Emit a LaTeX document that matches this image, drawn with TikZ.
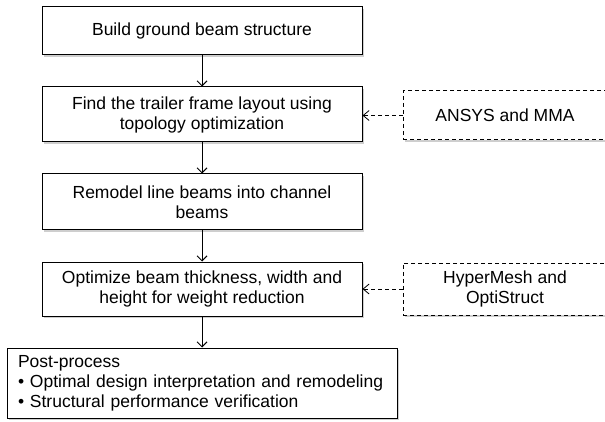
\documentclass[tikz,border=0pt]{standalone}
\usepackage{fontspec}
\setmainfont{Liberation Sans}
\usetikzlibrary{arrows.meta,shadows}
\begin{document}
\begin{tikzpicture}[x=1pt,y=-1pt,
  every node/.style={font=\fontsize{17.5}{20}\selectfont},
  shade/.style={drop shadow={shadow xshift=1.8pt,shadow yshift=-1.8pt,fill=gray!70,opacity=0.55}},
  stepbox/.style={draw,line width=1pt,fill=white,minimum width=320pt,align=center,inner sep=0pt,shade},
  toolbox/.style={draw,line width=1pt,dash pattern=on 4pt off 3pt,fill=white,minimum width=204pt,inner sep=0pt,shade},
  flow/.style={line width=1pt,-{Straight Barb[length=5pt,width=10pt]}},
  aux/.style={line width=0.8pt,dash pattern=on 4pt off 3pt,-{Straight Barb[length=6pt,width=10pt]}}
]
\clip (0,0) rectangle (605,422);
\fill[white] (0,0) rectangle (605,422);
\node[stepbox,minimum height=48pt] (b1) at (202,31) {Build ground beam structure};
\node[stepbox,minimum height=55pt] (b2) at (202,114.5) {Find the trailer frame layout using\\topology optimization};
\node[stepbox,minimum height=56pt] (b3) at (202,202) {Remodel line beams into channel\\beams};
\node[stepbox,minimum height=54pt] (b4) at (202,289) {Optimize beam thickness, width and\\height for weight reduction};
\node[stepbox,minimum width=390pt,minimum height=70pt,text width=368pt,align=left,inner xsep=11pt] (b5) at (202,383)
  {Post-process\\\textbullet\ Optimal design interpretation and remodeling\\\textbullet\ Structural performance verification};
\node[toolbox,minimum height=49pt] (t1) at (505,115.5) {};
\node (t1t) at (505,115.5) {ANSYS and MMA};
\node[toolbox,minimum height=52pt] (t2) at (505,289) {};
\node[align=center] (t2t) at (505,289) {HyperMesh and\\OptiStruct};
\draw[flow] (b1) -- (b2);
\draw[flow] (b2) -- (b3);
\draw[flow] (b3) -- (b4);
\draw[flow] (b4.south) -- (b4.south |- b5.north);
\draw[aux] (t1.west) -- (t1.west -| b2.east);
\draw[aux] (t2.west) -- (t2.west -| b4.east);
\end{tikzpicture}
\end{document}
